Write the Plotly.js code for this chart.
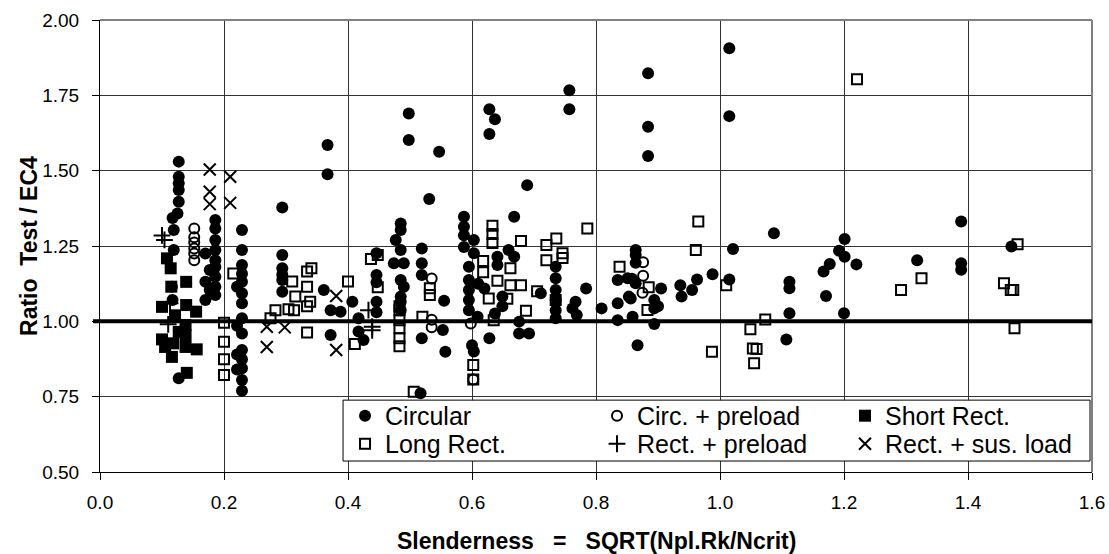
<!DOCTYPE html>
<html><head><meta charset="utf-8">
<script src="https://cdn.plot.ly/plotly-3.0.1.min.js"></script>
<style>html,body{margin:0;padding:0;background:#fff;}#chart{width:1109px;height:554px;}</style>
</head><body><div id="chart"></div>
<script>
// ---- data ----
const circularX = [0.127,0.127,0.127,0.127,0.127,0.125,0.117,0.119,0.119,0.116,0.117,0.127,
0.186,0.186,0.186,0.186,0.186,0.186,0.186,0.186,0.186,0.170,0.170,0.170,0.177,0.177,
0.229,0.229,0.229,0.229,0.229,0.229,0.229,0.229,0.229,0.229,0.229,0.229,0.229,0.229,0.221,0.221,0.221,0.221,
0.294,0.294,0.294,0.294,0.294,0.294,0.367,0.367,0.361,0.372,0.388,0.372,0.407,0.417,0.417,0.425,
0.446,0.446,0.446,0.446,0.446,0.498,0.498,0.547,0.531,
0.485,0.485,0.477,0.485,0.474,0.490,0.485,0.490,0.485,0.485,0.485,
0.519,0.519,0.519,0.519,0.555,0.553,0.557,0.517,
0.628,0.637,0.628,0.689,0.587,0.587,0.587,0.587,0.603,0.603,0.595,0.595,0.595,0.595,0.595,0.609,0.600,0.603,0.628,
0.668,0.659,0.668,0.641,0.641,0.620,0.610,0.649,0.649,0.637,0.676,0.676,0.692,0.711,
0.735,0.735,0.735,0.735,0.735,0.735,0.757,0.757,0.784,0.767,0.762,0.769,0.809,
0.835,0.835,0.835,0.851,0.853,0.884,0.884,0.884,0.864,0.864,0.864,0.858,0.864,0.905,0.894,0.894,0.900,0.856,0.859,0.894,0.867,
0.936,0.938,0.955,0.963,0.988,1.015,1.015,1.015,1.021,1.087,1.107,1.112,1.112,1.112,
1.167,1.177,1.171,1.201,1.192,1.201,1.220,1.200,1.318,1.389,1.389,1.389,1.470];
const circularY = [1.530,1.480,1.458,1.436,1.397,1.358,1.343,1.303,1.237,1.115,1.071,0.811,
1.336,1.308,1.270,1.237,1.203,1.180,1.148,1.115,1.087,1.225,1.131,1.071,1.170,1.104,
1.303,1.237,1.187,1.158,1.131,1.093,1.060,1.010,0.960,0.905,0.874,0.844,0.805,0.770,1.115,0.985,0.890,0.840,
1.378,1.220,1.176,1.155,1.137,1.098,1.585,1.488,1.104,1.037,1.032,0.955,1.065,1.010,0.966,0.938,
1.226,1.154,1.130,1.065,1.030,1.690,1.602,1.563,1.406,
1.325,1.303,1.270,1.237,1.193,1.193,1.137,1.115,1.082,1.065,1.037,
1.242,1.193,1.154,0.944,1.068,0.971,0.899,0.761,
1.704,1.671,1.622,1.452,1.347,1.314,1.286,1.247,1.270,1.226,1.181,1.137,1.104,1.071,1.037,1.015,0.921,0.900,0.944,
1.347,1.237,1.214,1.214,1.187,1.109,1.125,1.082,1.050,1.026,0.999,0.960,0.960,1.093,
1.181,1.143,1.104,1.071,1.037,1.010,1.767,1.704,1.109,1.065,1.043,1.021,1.043,
1.137,1.060,1.004,1.143,1.082,1.823,1.646,1.549,1.237,1.220,1.194,1.141,1.126,1.109,1.071,1.043,1.050,1.076,1.015,0.991,0.921,
1.120,1.082,1.104,1.139,1.156,1.139,1.906,1.681,1.240,1.292,0.940,1.131,1.110,1.027,
1.165,1.190,1.084,1.273,1.234,1.214,1.189,1.027,1.203,1.331,1.193,1.171,1.248];

const circPreloadX = [0.152,0.152,0.152,0.152,0.152,0.152,0.535,0.535,0.535,0.598,0.602,0.876,0.876,0.875];
const circPreloadY = [1.308,1.279,1.262,1.242,1.225,1.203,1.142,1.005,0.980,0.993,0.807,1.196,1.151,1.095];

const shortRectX = [0.108,0.114,0.139,0.115,0.100,0.139,0.155,0.121,0.138,0.100,0.118,0.138,0.156,0.116,0.140,0.127,0.138,0.105];
const shortRectY = [1.209,1.176,1.131,1.115,1.048,1.054,1.032,1.020,0.988,0.940,0.927,0.954,0.907,0.882,0.829,0.965,0.915,0.915];

const longRectX = [0.200,0.200,0.200,0.200,0.215,
0.275,0.283,0.310,0.315,0.304,0.313,0.334,0.341,0.334,0.339,0.334,0.334,0.400,0.411,0.437,0.448,0.448,
0.483,0.483,0.483,0.483,0.483,0.483,0.506,0.520,0.532,0.532,
0.633,0.633,0.633,0.679,0.720,0.736,0.720,0.746,0.746,0.786,0.618,0.618,0.662,0.641,0.662,0.679,0.657,0.627,0.635,0.687,0.705,0.735,
0.602,0.602,0.838,0.885,0.883,
0.965,0.961,1.010,0.987,1.049,1.073,1.053,1.059,1.055,
1.221,1.325,1.292,1.480,1.458,1.469,1.473,1.475];
const longRectY = [0.995,0.932,0.874,0.822,1.159,
1.010,1.037,1.132,1.082,1.040,1.037,1.165,1.176,1.115,1.065,1.050,0.963,1.132,0.925,1.207,1.220,1.113,
1.050,1.037,1.004,0.977,0.944,0.917,0.766,1.015,1.110,1.087,
1.317,1.290,1.260,1.267,1.253,1.275,1.203,1.226,1.210,1.308,1.200,1.163,1.176,1.135,1.120,1.120,1.075,1.076,1.004,1.035,1.100,1.071,
0.855,0.807,1.181,1.113,1.038,
1.331,1.237,1.120,0.899,0.974,1.006,0.910,0.908,0.861,
1.803,1.143,1.104,1.256,1.126,1.104,1.104,0.977];

const rectPreloadX = [0.100,0.104,0.113,0.110,0.433,0.439,0.439];
const rectPreloadY = [1.285,1.270,1.060,0.990,1.037,0.982,0.970];

const rectSusX = [0.177,0.177,0.177,0.210,0.210,0.269,0.269,0.298,0.381,0.381];
const rectSusY = [1.504,1.430,1.389,1.480,1.393,0.982,0.915,0.980,1.084,0.905];

const names = ['Circular','Circ. + preload','Short Rect.','Long Rect.','Rect. + preload','Rect. + sus. load'];
const xTicks = [0,0.2,0.4,0.6,0.8,1.0,1.2,1.4,1.6];
const xTickText = ['0.0','0.2','0.4','0.6','0.8','1.0','1.2','1.4','1.6'];
const yTicks = [0.5,0.75,1.0,1.25,1.5,1.75,2.0];
const yTickText = ['0.50','0.75','1.00','1.25','1.50','1.75','2.00'];

const FONT = 'Liberation Sans, Arial, sans-serif';
function tr(x,y,name,marker,leg){
  return {type:'scatter',mode:'markers',x:x,y:y,name:name,marker:marker,legend:leg,hoverinfo:'x+y'};
}
const traces = [
  tr(circularX,circularY,names[0],{symbol:'circle',size:12,color:'#000'},'legend'),
  tr(circPreloadX,circPreloadY,names[1],{symbol:'circle-open',size:10,color:'#000',line:{width:2,color:'#000'}},'legend2'),
  tr(shortRectX,shortRectY,names[2],{symbol:'square',size:12,color:'#000'},'legend3'),
  tr(longRectX,longRectY,names[3],{symbol:'square-open',size:10,color:'#000',line:{width:2,color:'#000'}},'legend4'),
  tr(rectPreloadX,rectPreloadY,names[4],{symbol:'cross-thin-open',size:12,color:'#000',line:{width:2,color:'#000'}},'legend5'),
  tr(rectSusX,rectSusY,names[5],{symbol:'x-thin-open',size:12,color:'#000',line:{width:2,color:'#000'}},'legend6')
];
function leg(x,y){return {x:x,y:y,xanchor:'left',yanchor:'middle',bgcolor:'rgba(0,0,0,0)',borderwidth:0,
  font:{family:FONT,size:25,color:'#000'},itemwidth:30,orientation:'v'};}
const c1=0.247,c2=0.501,c3=0.751,r1=0.124,r2=0.062;
const layout = {
  width:1109,height:554,
  margin:{l:100,r:17,t:20,b:82,pad:0},
  paper_bgcolor:'#fff',plot_bgcolor:'#fff',
  font:{family:FONT,color:'#000'},
  showlegend:true,
  legend:leg(c1,r1),legend2:leg(c2,r1),legend3:leg(c3,r1),
  legend4:leg(c1,r2),legend5:leg(c2,r2),legend6:leg(c3,r2),
  xaxis:{range:[0,1.6],tickvals:xTicks,ticktext:xTickText,showgrid:true,gridcolor:'#333',gridwidth:1,
    zeroline:false,showline:true,linecolor:'#000',linewidth:1,mirror:false,
    ticks:'outside',ticklen:7,tickcolor:'#000',tickfont:{family:FONT,size:19,color:'#000'},ticklabelstandoff:6},
  yaxis:{range:[0.5,2.0],tickvals:yTicks,ticktext:yTickText,showgrid:true,gridcolor:'#333',gridwidth:1,
    zeroline:false,showline:true,linecolor:'#000',linewidth:1,mirror:false,
    ticks:'outside',ticklen:7,tickcolor:'#000',tickfont:{family:FONT,size:19,color:'#000'},ticklabelstandoff:9},
  shapes:[
    {type:'line',xref:'paper',yref:'paper',x0:0,x1:1,y0:1,y1:1,line:{color:'#808080',width:2},layer:'above'},
    {type:'line',xref:'paper',yref:'paper',x0:1,x1:1,y0:0,y1:1,line:{color:'#808080',width:2},layer:'above'},
    {type:'line',xref:'paper',yref:'y',x0:-0.007,x1:1,y0:1,y1:1,line:{color:'#000',width:4},layer:'above'},
    {type:'rect',xref:'paper',yref:'paper',x0:0.245,x1:0.998,y0:0.0243,y1:0.159,fillcolor:'#fff',line:{color:'#000',width:1},layer:'above'}
  ],
  annotations:[
    {xref:'paper',yref:'paper',x:0.5,y:-0.153,xanchor:'center',yanchor:'middle',showarrow:false,
     text:'Slenderness\u00a0\u00a0\u00a0=\u00a0\u00a0\u00a0SQRT(Npl.Rk/Ncrit)',font:{family:FONT,size:23,color:'#000',weight:'bold'}},
    {xref:'paper',yref:'paper',x:-0.0716,y:0.5,xanchor:'center',yanchor:'middle',showarrow:false,textangle:-90,
     text:'Ratio\u00a0\u00a0Test / EC4',font:{family:FONT,size:23,color:'#000',weight:'bold'}}
  ]
};
Plotly.newPlot('chart',traces,layout,{displayModeBar:false,staticPlot:true});
</script></body></html>
